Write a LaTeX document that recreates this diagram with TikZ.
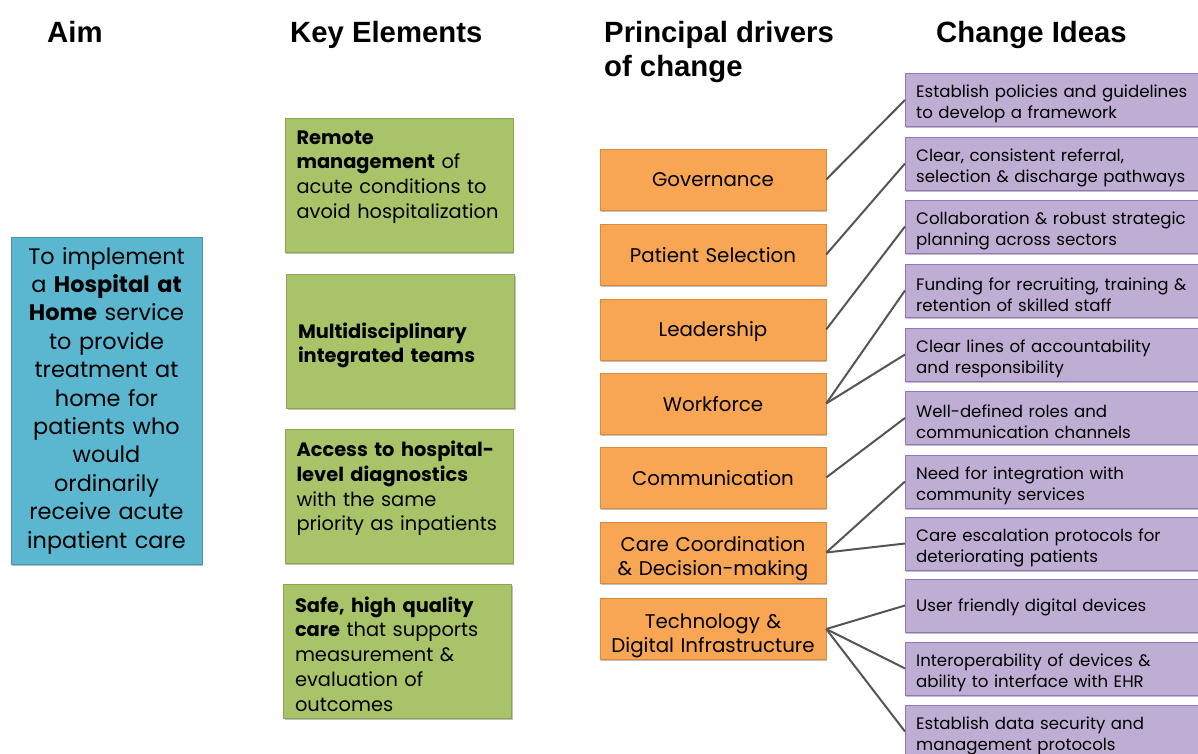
\documentclass[tikz,border=0pt]{standalone}
\usepackage{fontspec}
\setmainfont{Poppins}
\newfontfamily\headfont{Liberation Sans}
\usetikzlibrary{shadows}

\definecolor{aimblue}{HTML}{5BB7CF}
\definecolor{aimline}{HTML}{4A93AB}
\definecolor{keygreen}{HTML}{A9C368}
\definecolor{keyline}{HTML}{8DA453}
\definecolor{drvorange}{HTML}{F8A654}
\definecolor{drvline}{HTML}{D98B3C}
\definecolor{ideapurple}{HTML}{BFAED3}
\definecolor{idealine}{HTML}{9474BE}
\definecolor{connline}{HTML}{555555}

\begin{document}
\begin{tikzpicture}[x=1pt,y=-1pt,
    head/.style={anchor=base west, inner sep=0pt, font=\headfont\bfseries\fontsize{29.3}{34}\selectfont},
    boxshadow/.style={drop shadow={shadow xshift=1pt, shadow yshift=-1.5pt, fill=black, opacity=0.25}},
    botgap/.style={execute at end node={\endgraf\vspace*{#1}}},
    aimbox/.style={draw=aimline, fill=aimblue, boxshadow, minimum width=191pt, minimum height=327pt,
        text width=183pt, align=center, inner sep=4pt, font=\fontsize{22.4}{28.4}\selectfont},
    keybox/.style={draw=keyline, fill=keygreen, boxshadow, minimum width=228pt, minimum height=134pt,
        text width=205pt, align=left, inner xsep=11.5pt, font=\fontsize{19.4}{24.7}\selectfont},
    drvbox/.style={draw=drvline, fill=drvorange, boxshadow, minimum width=226pt, minimum height=61pt,
        text width=220pt, align=center, inner xsep=3pt, botgap=-4pt, font=\fontsize{19.8}{24}\selectfont},
    ideabox/.style={draw=idealine, fill=ideapurple, boxshadow, anchor=west, minimum width=300pt, minimum height=53pt,
        text width=282pt, align=left, inner xsep=11pt, botgap=-8pt, font=\fontsize{16.6}{21}\selectfont},
    conn/.style={draw=connline, line width=2pt}]

    \useasboundingbox (0,0) rectangle (1198,754);
    \clip (0,0) rectangle (1198,754);

    \node (aimhead) at (47,43) [head] {Aim};
    \node (keyhead) at (290,43) [head] {Key Elements};
    \node (drvhead) at (604,43) [head] {Principal drivers};
    \node (drvhead2) at (604,77) [head] {of change};
    \node (ideahead) at (936,43) [head] {Change Ideas};

    \node (aim) at (106.5,400.5) [aimbox] {To implement\\a \textbf{Hospital at}\\\textbf{Home} service\\to provide\\treatment at\\home for\\patients who\\would\\ordinarily\\receive acute\\inpatient care};

    \node (remote) at (399,185) [keybox, botgap=16pt] {\textbf{Remote}\\\textbf{management} of\\acute conditions to\\avoid hospitalization};
    \node (teams) at (400.5,341.5) [keybox, botgap=-8pt] {\textbf{Multidisciplinary}\\\textbf{integrated teams}};
    \node (access) at (399,496.5) [keybox, botgap=16pt] {\textbf{Access to hospital-}\\\textbf{level diagnostics}\\with the same\\priority as inpatients};
    \node (safe) at (397.5,651) [keybox, botgap=-6pt] {\textbf{Safe, high quality}\\\textbf{care} that supports\\measurement \&\\evaluation of\\outcomes};

    \node (gov) at (713,179.5) [drvbox] {Governance};
    \node (select) at (713,254.5) [drvbox] {Patient Selection};
    \node (lead) at (713,329.5) [drvbox] {Leadership};
    \node (work) at (713,403.5) [drvbox] {Workforce};
    \node (comm) at (713,477.5) [drvbox] {Communication};
    \node (coord) at (713,552.5) [drvbox, botgap=-8pt] {Care Coordination\\\& Decision-making};
    \node (tech) at (713,629) [drvbox, botgap=-9pt] {Technology \&\\Digital Infrastructure};

    \node (policy) at (905,100) [ideabox] {Establish policies and guidelines\\to develop a framework};
    \node (referral) at (905,163.5) [ideabox] {Clear, consistent referral,\\selection \& discharge pathways};
    \node (collab) at (905,226.5) [ideabox] {Collaboration \& robust strategic\\planning across sectors};
    \node (funding) at (905,290.5) [ideabox] {Funding for recruiting, training \&\\retention of skilled staff};
    \node (account) at (905,354.5) [ideabox] {Clear lines of accountability\\and responsibility};
    \node (roles) at (905,418) [ideabox] {Well-defined roles and\\communication channels};
    \node (integr) at (905,481.5) [ideabox] {Need for integration with\\community services};
    \node (escal) at (905,543.5) [ideabox] {Care escalation protocols for\\deteriorating patients};
    \node (devices) at (905,605.5) [ideabox] {User friendly digital devices};
    \node (interop) at (905,668.5) [ideabox] {Interoperability of devices \&\\ability to interface with EHR};
    \node (security) at (905,731.5) [ideabox] {Establish data security and\\management protocols};

    \draw[conn] (gov.east) -- (policy.west);
    \draw[conn] (select.east) -- (referral.west);
    \draw[conn] (lead.east) -- (collab.west);
    \draw[conn] (work.east) -- (funding.west);
    \draw[conn] (work.east) -- (account.west);
    \draw[conn] (comm.east) -- (roles.west);
    \draw[conn] (coord.east) -- (integr.west);
    \draw[conn] (coord.east) -- (escal.west);
    \draw[conn] (tech.east) -- (devices.west);
    \draw[conn] (tech.east) -- (interop.west);
    \draw[conn] (tech.east) -- (security.west);
\end{tikzpicture}
\end{document}
